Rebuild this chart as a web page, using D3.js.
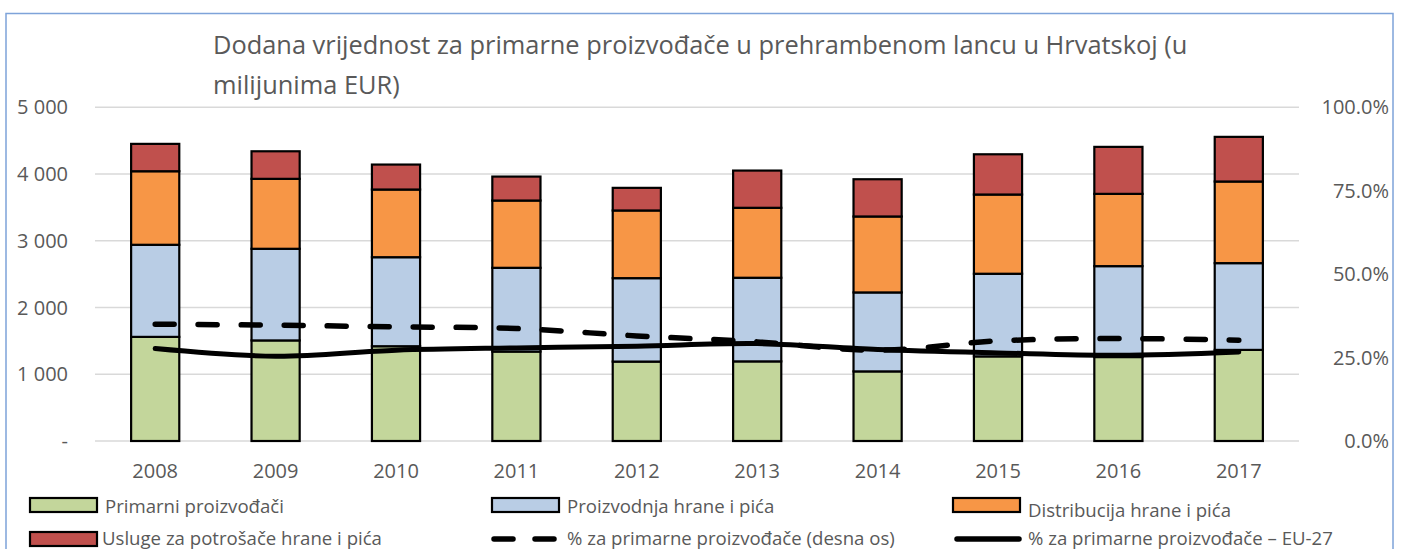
<!DOCTYPE html>
<html>
<head>
<meta charset="utf-8">
<script src="https://cdn.jsdelivr.net/npm/d3@7"></script>
<style>
  html, body { margin: 0; padding: 0; background: #fff; }
  svg { display: block; }
  text { font-family: "Open Sans", sans-serif; fill: #595959; }
</style>
</head>
<body>
<svg id="chart" width="1405" height="549"></svg>
<script>
// ---- data ----
const years = ["2008","2009","2010","2011","2012","2013","2014","2015","2016","2017"];
const primarni     = [1560, 1507, 1420, 1340, 1190, 1193, 1043, 1268, 1258, 1365];
const proizvodnja  = [1380, 1373, 1334, 1255, 1250, 1253, 1183, 1238, 1362, 1300];
const distribucija = [1102, 1048, 1014, 1008, 1014, 1048, 1138, 1187, 1083, 1223];
const usluge       = [ 410,  413,  374,  359,  339,  558,  558,  603,  704,  669];
const pctHR = [0.350, 0.347, 0.342, 0.337, 0.315, 0.297, 0.272, 0.300, 0.307, 0.302];
const pctEU = [0.277, 0.254, 0.272, 0.279, 0.284, 0.292, 0.274, 0.264, 0.257, 0.267];
const leftTicks  = [0, 1000, 2000, 3000, 4000, 5000];
const rightTicks = [0, 0.25, 0.5, 0.75, 1.0];
const seriesNames = ["Primarni proizvođači", "Proizvodnja hrane i pića", "Distribucija hrane i pića", "Usluge za potrošače hrane i pića"];
const lineNames = ["% za primarne proizvođače (desna os)", "% za primarne proizvođače – EU-27"];
const titleLines = ["Dodana vrijednost za primarne proizvođače u prehrambenom lancu u Hrvatskoj (u", "milijunima EUR)"];
const colors = ["#c3d69b", "#b9cde5", "#f79646", "#c0504d"];

// ---- layout ----
const svg = d3.select("#chart");
const plot = { left: 95, right: 1299, top: 107.3, bottom: 441 };

svg.append("rect").attr("x", 0).attr("y", 0).attr("width", 1405).attr("height", 549).attr("fill", "#fff");
svg.append("rect").attr("x", 6).attr("y", 13.5).attr("width", 1387).attr("height", 600)
  .attr("fill", "none").attr("stroke", "#7ea3d9").attr("stroke-width", 1.5);

const x = d3.scaleBand().domain(years).range([plot.left, plot.right]).paddingInner(0.6).paddingOuter(0.3);
const y = d3.scaleLinear().domain([0, 5000]).range([plot.bottom, plot.top]);
const y2 = d3.scaleLinear().domain([0, 1]).range([plot.bottom, plot.top]);

// gridlines
svg.append("g").selectAll("line").data(leftTicks).join("line")
  .attr("x1", plot.left).attr("x2", plot.right)
  .attr("y1", d => y(d)).attr("y2", d => y(d))
  .attr("stroke", "#d9d9d9").attr("stroke-width", 1.5);

// left axis labels
const fmtLeft = d => d === 0 ? "-" : d3.format(",")(d).replace(/,/g, " ");
svg.append("g").selectAll("text").data(leftTicks).join("text")
  .attr("x", 68).attr("y", d => y(d)).attr("dy", "0.35em")
  .attr("text-anchor", "end").attr("font-size", 20)
  .text(fmtLeft);

// right axis labels
svg.append("g").selectAll("text").data(rightTicks).join("text")
  .attr("x", 1389).attr("y", d => y2(d)).attr("dy", "0.35em")
  .attr("text-anchor", "end").attr("font-size", 20)
  .text(d => d3.format(".1%")(d));

// x labels
svg.append("g").selectAll("text").data(years).join("text")
  .attr("x", d => x(d) + x.bandwidth() / 2).attr("y", 471).attr("dy", "0.35em")
  .attr("text-anchor", "middle").attr("font-size", 20)
  .text(d => d);

// stacked bars
const table = years.map((yr, i) => ({ year: yr, s0: primarni[i], s1: proizvodnja[i], s2: distribucija[i], s3: usluge[i] }));
const stack = d3.stack().keys(["s0", "s1", "s2", "s3"])(table);
svg.append("g").selectAll("g").data(stack).join("g")
  .attr("fill", (d, i) => colors[i])
  .selectAll("rect").data(d => d).join("rect")
  .attr("x", d => x(d.data.year)).attr("width", x.bandwidth())
  .attr("y", d => y(d[1])).attr("height", d => y(d[0]) - y(d[1]))
  .attr("stroke", "#000").attr("stroke-width", 2.2);

// lines
const line = d3.line().x((d, i) => x(years[i]) + x.bandwidth() / 2).y(d => y2(d)).curve(d3.curveCatmullRom.alpha(0.5));
svg.append("path").attr("d", line(pctHR)).attr("fill", "none").attr("stroke", "#000")
  .attr("stroke-width", 5.5).attr("stroke-linecap", "round").attr("stroke-dasharray", "19,24");
svg.append("path").attr("d", line(pctEU)).attr("fill", "none").attr("stroke", "#000")
  .attr("stroke-width", 5).attr("stroke-linecap", "round");

// title
svg.append("g").selectAll("text").data(titleLines).join("text")
  .attr("x", 213).attr("y", (d, i) => 54 + i * 40)
  .attr("font-size", 25.4).text(d => d);

// legend
const legSw = [
  { x: 30, y: 505, tx: 105, ty: 506 },
  { x: 492, y: 505, tx: 567, ty: 506 },
  { x: 953, y: 505, tx: 1028, ty: 510 },
  { x: 30, y: 539, tx: 102, ty: 538 }
];
const lg = svg.append("g");
seriesNames.forEach((name, i) => {
  const p = legSw[i];
  lg.append("rect").attr("x", p.x).attr("y", p.y - 7).attr("width", 67).attr("height", 14)
    .attr("fill", colors[i]).attr("stroke", "#000").attr("stroke-width", 2.2);
  lg.append("text").attr("x", p.tx).attr("y", p.ty).attr("dy", "0.35em").attr("font-size", 18.6).text(name);
});
const legLn = [ { x1: 492, x2: 557, tx: 567, dash: "19,24" }, { x1: 955, x2: 1019, tx: 1028, dash: null } ];
lineNames.forEach((name, i) => {
  const p = legLn[i];
  const l = lg.append("line").attr("x1", p.x1 + 2).attr("x2", p.x2).attr("y1", 539).attr("y2", 539)
    .attr("stroke", "#000").attr("stroke-width", 5.5).attr("stroke-linecap", "round");
  if (p.dash) l.attr("stroke-dasharray", "19,22");
  lg.append("text").attr("x", p.tx).attr("y", 538).attr("dy", "0.35em").attr("font-size", 18.6).text(name);
});
</script>
</body>
</html>
